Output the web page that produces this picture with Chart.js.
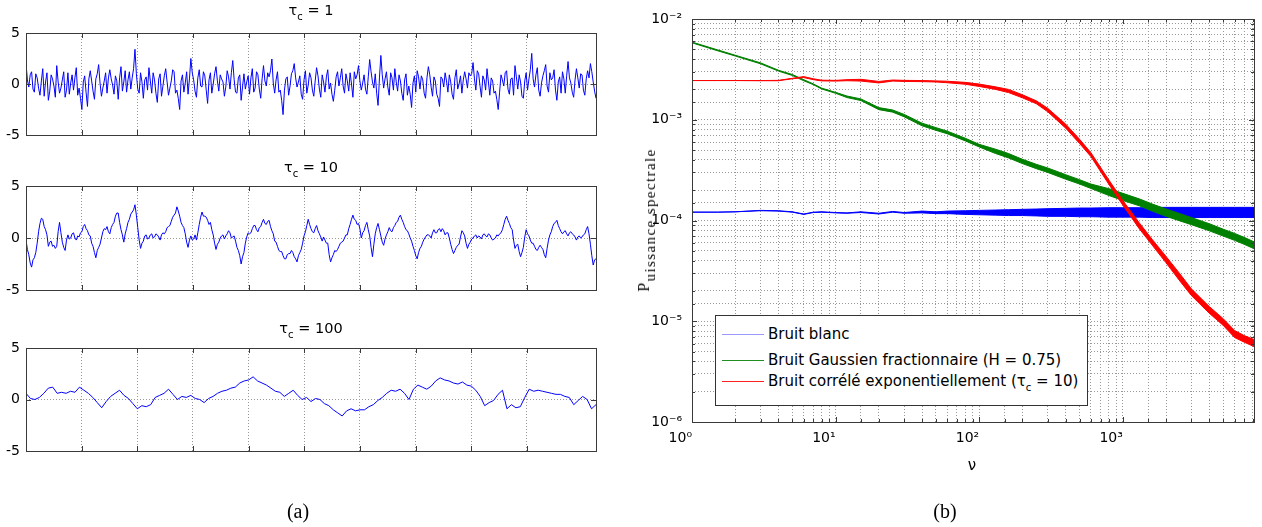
<!DOCTYPE html>
<html>
<head>
<meta charset="utf-8">
<script src="https://cdn.jsdelivr.net/npm/chart.js@4.4.0/dist/chart.umd.min.js"></script>
<style>
body { margin: 0; background: #fff; }
#wrap { position: relative; width: 1262px; height: 527px; overflow: hidden; font-family: 'DejaVu Sans', sans-serif; color: #000; }
#wrap canvas { position: absolute; left: 0; top: 0; }
.lbl { position: absolute; transform: translate(-50%, -50%); white-space: nowrap; }
.ttl { font-size: 14.5px; }
.ttl sub { font-size: 10px; vertical-align: -5px; }
.cap { font-family: 'Liberation Serif', serif; font-size: 20px; }
#ylab { font-family: 'Liberation Serif', serif; font-size: 16px; letter-spacing: 1.4px; transform: translate(-50%, -50%) rotate(-90deg); }
#ylab sub { font-size: 15px; vertical-align: -6px; }
#nu { font-size: 15px; }
#legend { position: absolute; left: 715px; top: 315px; width: 373px; height: 91px; border: 1px solid #333; background: #fff; box-sizing: border-box; font-size: 15px; }
.item { position: absolute; left: 6px; height: 20px; line-height: 20px; white-space: nowrap; }
.item span.ln { display: inline-block; width: 42px; height: 1px; vertical-align: middle; margin-right: 4px; }
.item sub { font-size: 10px; vertical-align: -5px; }
</style>
</head>
<body>
<div id="wrap">
  <canvas id="p1" width="1262" height="527"></canvas>
  <canvas id="p2" width="1262" height="527"></canvas>
  <canvas id="p3" width="1262" height="527"></canvas>
  <canvas id="spec" width="1262" height="527"></canvas>
  <div class="lbl ttl" style="left:311px;top:12px">τ<sub>c</sub> = 1</div>
  <div class="lbl ttl" style="left:311px;top:169px">τ<sub>c</sub> = 10</div>
  <div class="lbl ttl" style="left:311px;top:330px">τ<sub>c</sub> = 100</div>
  <div class="lbl cap" style="left:298px;top:511px">(a)</div>
  <div class="lbl cap" style="left:945px;top:511px">(b)</div>
  <div class="lbl" id="ylab" style="left:647px;top:220px">P<sub>uissance spectrale</sub></div>
  <div class="lbl" id="nu" style="left:972px;top:465px">ν</div>
  <div id="legend"></div>
</div>
<script>
// time series, 1024 samples each (at a coarser step)
const tauOne = [
  2.0, 0.4, -0.3, 0.9, 1.2, -0.5, -0.8, 1.0, 0.6, -0.4, -1.1, 0.3, 1.5, -1.2, 0.2, 1.1, -1.6, -0.7, 0.9, 0.5,
  -0.2, -1.3, 1.8, 0.2, -0.9, -0.4, 0.4, 1.2, -1.3, -0.6, 1.1, -1.0, 0.1, 0.9, -0.6, 0.6, 1.6, -1.1, -0.4, -1.4,
  -2.5, 0.2, 0.8, -0.8, -2.2, 0.5, 1.3, 0.3, -0.7, -1.5, 0.5, 1.0, 1.9, 0.1, -1.2, -0.4, 0.3, 1.1, -0.9, 0.6,
  1.4, 0.5, -0.1, -1.0, 0.8, 0.3, -1.5, 0.6, 1.7, -0.7, 0.2, 1.3, -0.8, 0.4, 1.2, -0.5, 0.6, 1.5, 3.4, 1.0,
  -0.5, -0.9, 1.1, 0.2, -1.4, 0.4, 0.7, -0.6, 1.6, 0.3, -0.9, 1.1, 0.4, -0.9, -1.8, 0.5, 1.0, -1.2, -0.2, 0.8,
  1.5, 0.2, -1.1, -0.4, 0.3, 1.4, 1.2, -0.9, -0.6, -1.4, -2.5, 0.3, 0.9, -0.8, 0.1, 1.2, -1.0, 0.5, 2.5, 1.1,
  0.4, -0.7, -1.3, 0.6, 1.4, -0.2, -0.3, 1.2, 0.8, -0.6, -1.9, 0.4, 1.1, -0.9, 0.0, 1.0, 1.7, 0.3, -0.7, 0.9,
  0.5, 0.2, -1.2, -0.3, 1.3, 0.7, -0.5, 1.1, 2.3, 0.4, -0.8, -0.9, 0.6, 0.9, -1.6, -0.3, 1.0, -0.5, 0.2, 0.8,
  -1.0, 0.6, 1.5, -0.8, -0.4, 1.2, 0.9, -0.5, -1.4, 0.5, 1.8, 0.3, -0.2, 1.1, 0.7, 1.3, 2.45, 0.1, -0.9, 0.4,
  1.2, -0.8, -0.6, -1.6, -3.0, -0.6, 0.5, 0.7, -1.1, -0.2, 1.0, 1.3, 2.0, 0.6, -0.3, 0.2, 0.8, -1.0, -1.5, 0.4,
  1.3, -0.9, -0.1, 1.1, 0.6, -0.6, -1.2, 0.3, 1.6, 0.8, -0.5, -1.3, 0.9, 0.2, -0.8, 0.7, 1.4, -0.5, 0.1, -1.0,
  -1.7, -0.6, 0.7, 1.2, -0.2, 0.6, 1.5, -0.2, -0.9, 1.0, 0.3, -0.7, 1.1, 0.0, -1.3, 1.2, 0.5, 0.9, 1.8, 0.3,
  -0.6, 0.1, 0.9, -0.5, -1.0, 0.7, 2.4, 1.2, 0.2, -0.4, 1.0, -0.9, -2.1, 0.6, 2.8, 0.9, -0.4, 0.5, 1.2, -0.3,
  -1.1, 1.1, 0.6, -0.6, 1.5, 0.2, -0.7, 0.9, 0.3, -0.9, -1.6, 0.4, 1.0, -1.1, -0.2, -1.0, -2.3, 0.1, 0.8, -0.8,
  1.3, 0.7, -0.5, 0.8, 0.4, -0.9, -1.4, 0.6, 1.7, 0.9, -0.3, -1.2, 0.7, 0.3, -1.0, -1.4, -2.2, 0.7, 0.5, -0.3,
  1.1, 0.3, -0.8, 0.9, 0.2, -1.0, -1.5, 0.6, 1.4, -0.5, 0.0, 0.8, -0.9, 0.4, 1.2, 0.5, -0.4, 1.1, 0.8, 1.0,
  2.1, 0.5, -0.6, 1.3, 1.0, -0.2, -1.3, 0.8, 0.4, -0.6, 1.5, 0.2, -1.1, 0.6, 0.3, -0.9, -0.7, -1.5, -2.5, -0.8,
  0.9, 0.4, -0.2, 1.1, 1.3, -0.5, -1.0, 0.5, 0.6, -1.1, 1.8, 0.7, -0.5, 0.9, 0.2, -1.2, -1.4, 0.3, 1.1, -0.6,
  0.5, 1.4, 3.0, 0.5, -0.3, 0.9, 1.6, -0.6, -1.2, 0.1, 0.8, 1.3, 1.9, -0.2, -0.8, 1.1, 0.4, 0.6, 1.4, -0.6,
  -1.6, 0.2, 0.7, -0.9, 1.2, 0.5, -0.9, 0.8, 2.2, 0.6, 0.1, -0.8, -1.3, 0.4, 1.5, 0.6, -0.4, 1.0, 0.9, -0.6,
  -1.1, 0.5, 1.3, 0.6, 2.0, 1.2, 0.2, -0.7, -1.4
];
const tauTen = [
  -0.2, -1.1, -1.6, -2.4, -2.8, -2.1, -1.9, -1.4, -0.5, 0.6, 1.4, 1.9, 1.8, 1.1, 0.8, 0.3, -0.8, -0.4, -0.3, -0.8,
  -0.7, -1.0, -0.8, 0.6, 1.5, 0.5, -0.4, -0.9, -1.2, -0.2, 0.3, -0.1, 0.0, 0.4, 0.5, 0.0, -0.2, 0.2, 0.1, 0.5,
  0.6, 1.1, 1.3, 0.9, 0.7, 0.3, 0.2, -0.5, -0.8, -1.4, -1.9, -1.2, -0.9, -0.6, 0.0, 0.6, 0.9, 0.8, 1.1, 0.6,
  0.4, 1.0, 1.3, 1.5, 2.1, 2.4, 2.4, 1.5, 0.8, 0.3, -0.4, 0.4, 0.9, 1.5, 1.8, 2.3, 2.5, 2.7, 3.2, 2.2,
  1.0, -0.2, -1.0, -0.5, -0.3, 0.2, 0.3, -0.1, 0.0, 0.3, 0.4, 0.0, 0.1, 0.4, 0.3, 0.1, -0.2, 0.3, 0.5, 0.4,
  0.6, 1.0, 1.1, 1.2, 1.6, 2.0, 2.2, 2.4, 3.0, 2.6, 2.1, 1.5, 1.2, 1.0, 0.4, -0.4, -0.9, -0.2, 0.2, -0.2,
  -0.1, 0.3, -0.2, 0.5, 1.3, 2.0, 2.5, 2.1, 2.1, 2.0, 1.7, 1.3, 1.5, 0.8, 0.3, -0.5, -1.1, -0.6, -0.4, 0.0,
  0.2, 0.3, -0.1, 0.2, 0.4, 0.7, 0.5, 0.0, 0.1, 0.2, -0.3, -0.9, -1.2, -1.7, -2.5, -1.8, -1.4, -0.5, 0.1, 0.5,
  0.4, 0.5, 0.9, 1.2, 1.2, 0.8, 0.6, 1.0, 1.1, 1.5, 1.8, 1.4, 1.3, 1.6, 1.7, 1.1, 0.7, 0.4, -0.3, -0.4,
  -0.8, -1.2, -1.3, -1.3, -1.7, -2.0, -2.0, -1.6, -1.5, -1.5, -1.2, -1.4, -1.8, -2.0, -2.3, -1.7, -1.4, -1.1, -0.5, 0.2,
  0.6, 1.2, 1.8, 1.3, 0.9, 0.6, 0.5, 0.9, 1.2, 0.7, 0.4, 0.1, -0.3, 0.1, -0.2, -0.5, -0.5, -1.6, -2.3, -1.9,
  -1.6, -1.2, -1.3, -1.1, -0.8, -0.5, -0.4, -0.3, 0.0, 0.3, 0.3, 0.9, 1.3, 1.8, 2.2, 1.8, 1.7, 1.3, 1.4, 0.9,
  0.0, 0.5, 0.7, 1.2, 1.5, 0.8, 0.2, -0.9, -1.8, -0.6, 0.4, 1.0, 1.4, 0.8, 0.2, -0.4, -0.7, -0.1, 0.3, 0.6,
  1.0, 0.7, 0.6, 1.0, 1.2, 1.5, 1.6, 2.0, 2.2, 1.8, 1.5, 1.1, 0.8, 0.7, 0.4, 0.0, -0.3, -0.8, -1.2, -1.7,
  -2.0, -1.4, -1.0, -0.8, -0.4, -0.1, 0.1, 0.3, 0.3, 0.2, 0.0, 0.5, 0.8, 0.5, 0.5, 0.8, 0.9, 0.6, 0.9, 0.7,
  0.3, 0.5, 0.5, 0.0, -0.6, -1.1, -1.5, -1.2, -0.9, -0.7, -0.6, 0.1, 0.7, 0.5, 0.2, -0.5, -1.0, -0.6, -0.4, -0.1,
  0.0, 0.2, 0.3, 0.0, 0.2, 0.1, -0.1, 0.3, 0.4, 0.2, 0.1, 0.4, 0.3, 0.0, -0.2, -0.1, 0.0, 0.3, 0.2, 0.4,
  0.5, 0.8, 1.3, 1.8, 2.1, 1.7, 1.4, 1.0, 0.8, -0.2, -1.0, -0.7, -0.6, -1.3, -1.8, -1.4, -0.9, 0.1, 0.8, 0.4,
  0.2, -0.2, -0.5, -0.5, -0.8, -1.1, -1.2, -0.9, -0.7, -0.9, -1.1, -1.6, -1.9, -1.0, -0.2, 0.3, 0.6, 1.1, 1.4, 1.5,
  1.7, 1.2, 0.9, 0.6, 0.4, 0.6, 0.7, 0.4, 0.2, 0.5, 0.6, 0.4, 0.3, 0.1, -0.2, 0.1, 0.2, 0.0, 0.1, 0.3,
  0.4, 0.8, 1.1, 0.4, -0.6, -1.7, -2.6, -2.1, -2.0
];
const tauHundred = [
  0.6, 0.1, 0.0, 0.2, 0.6, 1.1, 1.2, 0.6, 0.7, 0.6,
  0.8, 0.7, 1.2, 0.9, 0.6, 0.2, -0.3, -0.8, -0.2, 0.3,
  0.6, 0.9, 0.4, 0.1, -0.4, -0.9, -0.6, -0.7, -0.5, 0.2,
  0.4, 0.6, 1.0, 0.5, 0.0, 0.3, 0.2, 0.4, 0.1, 0.0,
  -0.3, 0.1, 0.3, 0.6, 0.8, 0.9, 1.1, 1.2, 1.6, 1.8,
  1.9, 2.2, 1.8, 1.6, 1.4, 1.1, 0.8, 0.7, 0.3, 0.6,
  0.9, 0.4, 0.0, 0.2, -0.2, 0.1, 0.0, -0.4, -0.6, -1.0,
  -1.3, -1.6, -1.1, -0.9, -1.1, -1.0, -1.0, -0.7, -0.5, -0.1,
  0.2, 0.6, 0.9, 0.8, 1.0, 0.6, 0.0, 1.0, 1.4, 1.2,
  1.0, 1.3, 1.8, 2.1, 1.9, 1.8, 1.6, 1.5, 1.7, 1.4,
  1.3, 0.9, 0.3, -0.6, -0.3, -0.1, 0.5, 0.9, -0.9, -0.5,
  -0.8, -0.7, 0.2, 1.0, 0.8, 0.9, 0.8, 0.7, 0.6, 0.5,
  0.5, 0.3, 0.2, -0.5, -0.1, 0.3, 0.0, -0.9, -0.5
];
const panelTicks = [-5, 0, 5];

// power spectra (frequency, upper and lower edge of the plotted trace)
const nu = [1, 1.5, 2, 3, 4, 5, 6, 7, 8, 10, 12, 15, 20, 25, 30, 40, 50, 60, 80, 100,
  130, 160, 200, 250, 300, 400, 500, 600, 800, 1000, 1300, 1600, 2000, 2500, 3000, 4000, 5000, 6000, 7000, 8192];
const blancHi = [1.21e-4, 1.21e-4, 1.22e-4, 1.26e-4, 1.25e-4, 1.22e-4, 1.16e-4, 1.21e-4, 1.22e-4, 1.20e-4,
  1.19e-4, 1.22e-4, 1.18e-4, 1.23e-4, 1.20e-4, 1.24e-4, 1.22e-4, 1.24e-4, 1.25e-4, 1.26e-4,
  1.27e-4, 1.28e-4, 1.29e-4, 1.30e-4, 1.31e-4, 1.32e-4, 1.33e-4, 1.33e-4, 1.34e-4, 1.34e-4,
  1.34e-4, 1.35e-4, 1.35e-4, 1.35e-4, 1.35e-4, 1.35e-4, 1.35e-4, 1.35e-4, 1.35e-4, 1.35e-4];
const blancLo = [1.21e-4, 1.21e-4, 1.22e-4, 1.25e-4, 1.24e-4, 1.21e-4, 1.15e-4, 1.20e-4, 1.21e-4, 1.19e-4,
  1.18e-4, 1.20e-4, 1.16e-4, 1.21e-4, 1.18e-4, 1.19e-4, 1.17e-4, 1.17e-4, 1.15e-4, 1.14e-4,
  1.13e-4, 1.12e-4, 1.12e-4, 1.11e-4, 1.10e-4, 1.10e-4, 1.09e-4, 1.09e-4, 1.08e-4, 1.08e-4,
  1.08e-4, 1.07e-4, 1.07e-4, 1.07e-4, 1.07e-4, 1.07e-4, 1.07e-4, 1.07e-4, 1.07e-4, 1.07e-4];
const fracHi = [5.9e-3, 4.95e-3, 4.37e-3, 3.67e-3, 3.1e-3, 2.81e-3, 2.5e-3, 2.27e-3, 2.06e-3, 1.87e-3,
  1.72e-3, 1.61e-3, 1.32e-3, 1.25e-3, 1.13e-3, 9.25e-4, 8.35e-4, 7.7e-4, 6.55e-4, 5.7e-4,
  5.1e-4, 4.62e-4, 4.05e-4, 3.61e-4, 3.32e-4, 2.85e-4, 2.54e-4, 2.3e-4, 2.07e-4, 1.86e-4,
  1.64e-4, 1.46e-4, 1.3e-4, 1.17e-4, 1.07e-4, 9.3e-5, 8.2e-5, 7.45e-5, 6.8e-5, 6.15e-5];
const fracLo = [5.8e-3, 4.85e-3, 4.29e-3, 3.59e-3, 3.04e-3, 2.75e-3, 2.44e-3, 2.23e-3, 2.02e-3, 1.83e-3,
  1.66e-3, 1.55e-3, 1.26e-3, 1.19e-3, 1.07e-3, 8.7e-4, 7.85e-4, 7.25e-4, 6.17e-4, 5.37e-4,
  4.62e-4, 4.18e-4, 3.67e-4, 3.27e-4, 3.0e-4, 2.57e-4, 2.3e-4, 2.08e-4, 1.77e-4, 1.58e-4,
  1.4e-4, 1.24e-4, 1.1e-4, 9.9e-5, 9.1e-5, 7.9e-5, 7.0e-5, 6.35e-5, 5.8e-5, 5.25e-5];
const expoHi = [2.45e-3, 2.45e-3, 2.45e-3, 2.45e-3, 2.46e-3, 2.58e-3, 2.68e-3, 2.55e-3, 2.47e-3, 2.46e-3,
  2.50e-3, 2.52e-3, 2.40e-3, 2.48e-3, 2.46e-3, 2.45e-3, 2.43e-3, 2.41e-3, 2.35e-3, 2.26e-3,
  2.12e-3, 2.0e-3, 1.77e-3, 1.54e-3, 1.30e-3, 9.05e-4, 6.4e-4, 4.7e-4, 2.52e-4, 1.58e-4,
  9.5e-5, 6.5e-5, 4.4e-5, 2.95e-5, 2.1e-5, 1.4e-5, 1.06e-5, 8.1e-6, 7.2e-6, 6.6e-6];
const expoLo = [2.45e-3, 2.45e-3, 2.45e-3, 2.44e-3, 2.44e-3, 2.55e-3, 2.62e-3, 2.50e-3, 2.43e-3, 2.42e-3,
  2.44e-3, 2.42e-3, 2.32e-3, 2.42e-3, 2.40e-3, 2.39e-3, 2.37e-3, 2.33e-3, 2.25e-3, 2.14e-3,
  2.0e-3, 1.86e-3, 1.65e-3, 1.44e-3, 1.20e-3, 8.25e-4, 5.8e-4, 4.3e-4, 2.28e-4, 1.42e-4,
  8.3e-5, 5.7e-5, 3.8e-5, 2.5e-5, 1.8e-5, 1.2e-5, 9.1e-6, 6.9e-6, 6.2e-6, 5.6e-6];

const seriesNames = ['Bruit blanc', 'Bruit Gaussien fractionnaire (H = 0.75)', 'Bruit corrélé exponentiellement (τ<sub>c</sub> = 10)'];
const seriesColors = ['#0000ff', '#008000', '#ff0000'];
const legendColors = ['#9a9aff', '#1f8f1f', '#ff2020'];

const SUP = { '-': '⁻', '0': '⁰', '1': '¹', '2': '²', '3': '³', '4': '⁴', '5': '⁵', '6': '⁶', '7': '⁷', '8': '⁸', '9': '⁹' };
function isDecade(v) {
  const e = Math.log10(v);
  return Math.abs(e - Math.round(e)) < 1e-6;
}
function decadeLabel(v) {
  if (!isDecade(v)) return '';
  return '10' + String(Math.round(Math.log10(v))).split('').map(c => SUP[c]).join('');
}

const tickFont = { family: 'DejaVu Sans', size: 14 };
const gridOpts = { color: '#999999', lineWidth: 1, drawTicks: false };
const borderOpts = { display: false, dash: [1, 2] };

// box round the plot with matlab style inner ticks
const framePlugin = {
  id: 'frame',
  afterDatasetsDraw(chart) {
    const { ctx, chartArea: a, scales } = chart;
    const log = chart.options.scales.x.type === 'logarithmic';
    ctx.save();
    ctx.strokeStyle = '#3a3a3a';
    ctx.lineWidth = 1;
    ctx.beginPath();
    scales.x.ticks.forEach(t => {
      const px = Math.round(scales.x.getPixelForValue(t.value)) + 0.5;
      const len = (!log || isDecade(t.value)) ? 5 : 3;
      ctx.moveTo(px, a.top); ctx.lineTo(px, a.top + len);
      ctx.moveTo(px, a.bottom); ctx.lineTo(px, a.bottom - len);
    });
    scales.y.ticks.forEach(t => {
      const py = Math.round(scales.y.getPixelForValue(t.value)) + 0.5;
      const len = (!log || isDecade(t.value)) ? 5 : 3;
      ctx.moveTo(a.left, py); ctx.lineTo(a.left + len, py);
      ctx.moveTo(a.right, py); ctx.lineTo(a.right - len, py);
    });
    ctx.stroke();
    ctx.strokeRect(Math.round(a.left) + 0.5, Math.round(a.top) + 0.5, Math.round(a.right - a.left), Math.round(a.bottom - a.top));
    ctx.restore();
  }
};

function makePanel(id, values, top, bottom) {
  new Chart(document.getElementById(id), {
    type: 'line',
    data: {
      datasets: [{
        data: values.map((v, i) => ({ x: i * 1024 / (values.length - 1), y: v })),
        borderColor: '#0000ff',
        borderWidth: 1,
        pointRadius: 0,
        tension: 0
      }]
    },
    options: {
      responsive: false,
      animation: false,
      devicePixelRatio: 1,
      layout: { padding: { left: 0, top: top, right: 1262 - 596, bottom: 527 - bottom } },
      plugins: { legend: { display: false }, tooltip: { enabled: false } },
      scales: {
        x: {
          type: 'linear', min: 0, max: 1024,
          ticks: { display: false, stepSize: 100 },
          grid: gridOpts, border: borderOpts,
          afterFit: s => { s.height = 0; }
        },
        y: {
          min: -5, max: 5,
          afterBuildTicks: s => { s.ticks = panelTicks.map(v => ({ value: v })); },
          ticks: { font: tickFont, color: '#000', padding: 6 },
          grid: gridOpts, border: borderOpts,
          afterFit: s => { s.width = 26; }
        }
      }
    },
    plugins: [framePlugin]
  });
}

makePanel('p1', tauOne, 33, 135);
makePanel('p2', tauTen, 186, 290);
makePanel('p3', tauHundred, 348, 451);

function band(values, color, order, fill) {
  return {
    data: nu.map((f, i) => ({ x: f, y: values[i] })),
    borderColor: color,
    backgroundColor: color,
    borderWidth: 1,
    pointRadius: 0,
    tension: 0,
    order: order,
    fill: fill
  };
}

new Chart(document.getElementById('spec'), {
  type: 'line',
  data: {
    datasets: [
      band(blancHi, seriesColors[0], 3, false),
      band(blancLo, seriesColors[0], 3, '-1'),
      band(fracHi, seriesColors[1], 2, false),
      band(fracLo, seriesColors[1], 2, '-1'),
      band(expoHi, seriesColors[2], 1, false),
      band(expoLo, seriesColors[2], 1, '-1')
    ]
  },
  options: {
    responsive: false,
    animation: false,
    devicePixelRatio: 1,
    layout: { padding: { left: 600, top: 19, right: 8, bottom: 0 } },
    plugins: { legend: { display: false }, tooltip: { enabled: false } },
    scales: {
      x: {
        type: 'logarithmic', min: 1, max: 8192,
        ticks: { autoSkip: false, maxRotation: 0, align: 'end', font: tickFont, color: '#000', padding: 8, callback: v => decadeLabel(v) },
        grid: gridOpts, border: borderOpts,
        afterFit: s => { s.height = 105; }
      },
      y: {
        type: 'logarithmic', min: 1e-6, max: 1e-2,
        ticks: { autoSkip: false, font: tickFont, color: '#000', padding: 10, callback: v => decadeLabel(v) },
        grid: gridOpts, border: borderOpts,
        afterFit: s => { s.width = 92; }
      }
    }
  },
  plugins: [framePlugin]
});

// legend built from the series names and colours
const legend = document.getElementById('legend');
const itemTops = [8, 34, 55];
seriesNames.forEach((name, i) => {
  const d = document.createElement('div');
  d.className = 'item';
  d.style.top = itemTops[i] + 'px';
  d.innerHTML = '<span class="ln" style="background-color:' + legendColors[i] + '"></span>' + name;
  legend.appendChild(d);
});
</script>
</body>
</html>
